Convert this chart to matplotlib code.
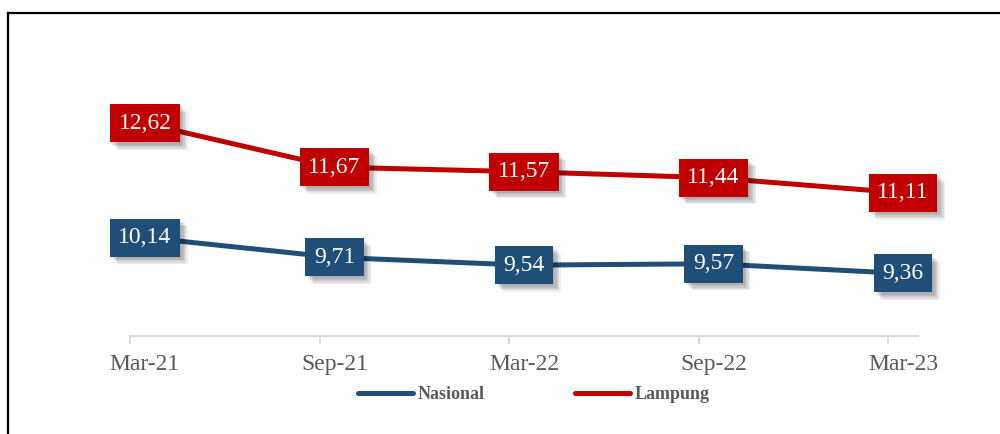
import matplotlib
matplotlib.use("Agg")
import matplotlib.pyplot as plt
import matplotlib.patheffects as pe
from matplotlib.lines import Line2D

periods = ["Mar-21", "Sep-21", "Mar-22", "Sep-22", "Mar-23"]
nasional = [10.14, 9.71, 9.54, 9.57, 9.36]
lampung = [12.62, 11.67, 11.57, 11.44, 11.11]

blue = "#1F4E79"
red = "#C00000"
grey = "#595959"

plt.rcParams["font.family"] = ["Liberation Serif", "DejaVu Serif"]

fig = plt.figure(figsize=(10, 4.34), dpi=100)
ax = fig.add_axes([0.13, 0.2258, 0.788, 0.636])

x = list(range(len(periods)))
ax.plot(x, nasional, color=blue, lw=3.6, solid_capstyle="round", label="Nasional")
ax.plot(x, lampung, color=red, lw=3.6, solid_capstyle="round", label="Lampung")

shadow = [pe.SimplePatchShadow(offset=(d, -d), shadow_rgbFace="black", alpha=0.07)
          for d in (1.5, 2.5, 3.5, 4.5, 5.5)] + [pe.Normal()]

def label(xs, ys, col):
    for xi, yi in zip(xs, ys):
        s = f"{yi:.2f}".replace(".", ",")
        t = ax.text(xi, yi, s, ha="center", va="center", color="white",
                    fontsize=17, zorder=5,
                    bbox=dict(boxstyle="square,pad=0.36", fc=col, ec="none"))
        t.get_bbox_patch().set_path_effects(shadow)

label(x, nasional, blue)
label(x, lampung, red)

ax.set_xlim(-0.079, 4.079)
ax.set_ylim(8, 14)
ax.set_yticks([])
for s in ["top", "right", "left"]:
    ax.spines[s].set_visible(False)
ax.spines["bottom"].set_color("#D9D9D9")
ax.spines["bottom"].set_linewidth(1.5)

ax.set_xticks(x)
ax.set_xticklabels(periods, fontsize=17, color=grey)
ax.tick_params(axis="x", which="major", length=0, pad=13)
ax.set_xticks([i - 0.079 for i in x], minor=True)
ax.tick_params(axis="x", which="minor", length=6, width=1.5, color="#D9D9D9")

leg = fig.legend(loc="center", bbox_to_anchor=(0.534, 0.09), ncol=2, frameon=False,
                 handlelength=3.05, handletextpad=0.25, columnspacing=5.0,
                 prop={"weight": "bold", "size": 13})
for txt in leg.get_texts():
    txt.set_color(grey)

# frame of the chart box
fig.add_artist(Line2D([0.008, 0.008], [0, 0.970], color="black", lw=1.6))
fig.add_artist(Line2D([0.008, 1.0], [0.970, 0.970], color="black", lw=1.6))

fig.savefig("out.png", dpi=100)
